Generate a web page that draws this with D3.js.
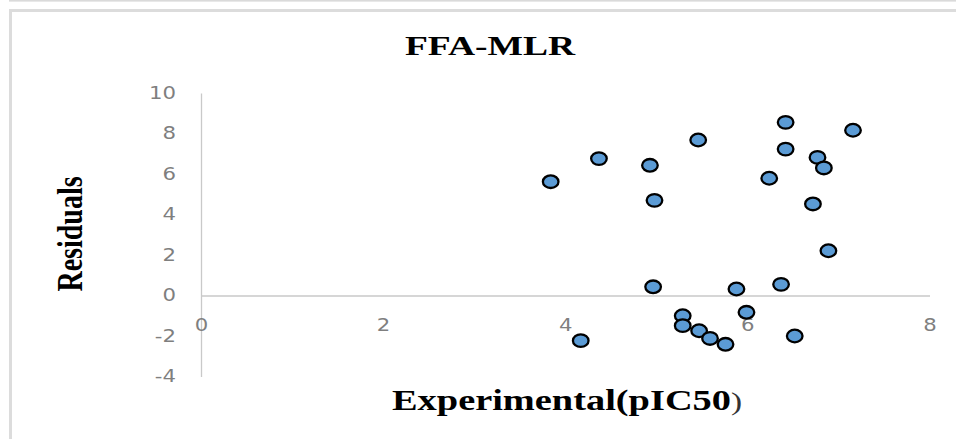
<!DOCTYPE html>
<html>
<head>
<meta charset="utf-8">
<script src="https://cdn.jsdelivr.net/npm/d3@7"></script>
<style>
  html, body { margin: 0; padding: 0; background: #fff; }
  svg { display: block; }
</style>
</head>
<body>
<svg id="chart" width="956" height="439"></svg>
<script>
// Residuals of the FFA-MLR model against experimental pIC50
const experimental = [3.84, 4.37, 4.93, 4.98, 5.46, 4.965, 5.88, 5.29, 5.29, 5.47, 5.59, 5.76,
                      4.17, 6.42, 7.16, 6.42, 6.77, 6.84, 6.24, 6.72, 6.89, 6.37, 5.99, 6.52];
const residuals    = [5.62, 6.76, 6.43, 4.70, 7.68, 0.43, 0.32, -1.0, -1.49, -1.74, -2.12, -2.41,
                      -2.23, 8.55, 8.16, 7.23, 6.82, 6.30, 5.79, 4.52, 2.21, 0.55, -0.83, -2.0];
const xTicks = [0, 2, 4, 6, 8];
const yTicks = [-4, -2, 0, 2, 4, 6, 8, 10];
const chartTitle = "FFA-MLR";
const xTitle = "Experimental(pIC50";
const xTitleEnd = ")";
const yTitle = "Residuals";

const svg = d3.select("#chart");
const stretch = 1.25; // horizontal text stretch

// frame lines
svg.append("rect").attr("x", 9).attr("y", 0).attr("width", 947).attr("height", 1.6).attr("fill", "#dadada");
svg.append("rect").attr("x", 10.5).attr("y", 10.5).attr("width", 970).attr("height", 460)
  .attr("fill", "none").attr("stroke", "#dcdcdc").attr("stroke-width", 3);

const x = d3.scaleLinear().domain([0, 8]).range([201, 929.5]);
const y = d3.scaleLinear().domain([-4, 10]).range([376.5, 93]);

const axisColor = "#c9c9c9";
const tickColor = "#7f7f7f";
const fmt = d => String(d); // plain hyphen for negatives

// y axis
const gy = svg.append("g").attr("transform", `translate(${x(0)},0)`)
  .call(d3.axisLeft(y).tickValues(yTicks).tickSize(0).tickPadding(20).tickFormat(fmt));
gy.select(".domain").attr("stroke", axisColor).attr("stroke-width", 1.3);
gy.selectAll("text").attr("fill", tickColor).attr("font-family", "DejaVu Sans")
  .attr("font-size", 17).attr("transform", `scale(${stretch},1)`);

// x axis through zero
const gx = svg.append("g").attr("transform", `translate(0,${y(0)})`)
  .call(d3.axisBottom(x).tickValues(xTicks).tickSize(0).tickPadding(23).tickFormat(fmt));
gx.select(".domain").attr("stroke", axisColor).attr("stroke-width", 1.3);
gx.selectAll("text").attr("fill", tickColor).attr("font-family", "DejaVu Sans")
  .attr("font-size", 17).attr("transform", `scale(${stretch},1)`);
svg.selectAll(".tick line").remove();

// points
svg.append("g").selectAll("ellipse")
  .data(experimental.map((v, i) => [v, residuals[i]]))
  .join("ellipse")
  .attr("cx", d => x(d[0]))
  .attr("cy", d => y(d[1]))
  .attr("rx", 7.8)
  .attr("ry", 6.3)
  .attr("fill", "#5b9bd5")
  .attr("stroke", "#000")
  .attr("stroke-width", 2.3);

// titles
svg.append("text")
  .attr("transform", `translate(490,55) scale(1.34,1)`)
  .attr("text-anchor", "middle")
  .attr("font-family", "Liberation Serif").attr("font-weight", "bold").attr("font-size", 28)
  .attr("fill", "#000")
  .text(chartTitle);

const xt = svg.append("text")
  .attr("transform", `translate(392,410) scale(1.28,1)`)
  .attr("font-family", "Liberation Serif").attr("font-size", 30).attr("fill", "#000");
xt.append("tspan").attr("font-weight", "bold").text(xTitle);
xt.append("tspan").attr("font-size", 26).attr("fill", "#333").text(xTitleEnd);

svg.append("text")
  .attr("transform", `translate(82,234) scale(${stretch},1) rotate(-90)`)
  .attr("text-anchor", "middle")
  .attr("font-family", "Liberation Serif").attr("font-weight", "bold").attr("font-size", 28)
  .attr("fill", "#000")
  .text(yTitle);
</script>
</body>
</html>
